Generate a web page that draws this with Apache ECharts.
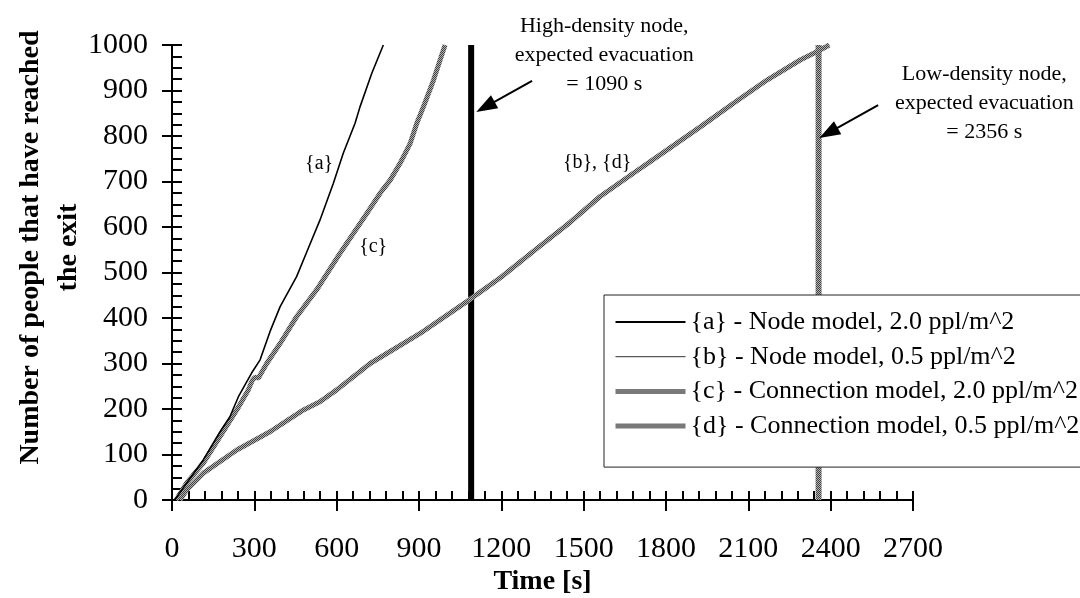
<!DOCTYPE html>
<html>
<head>
<meta charset="utf-8">
<script src="https://cdn.jsdelivr.net/npm/echarts@6/dist/echarts.min.js"></script>
<style>
  html, body { margin: 0; padding: 0; background: #fff; }
  #chart { width: 1080px; height: 598px; }
</style>
</head>
<body>
<div id="chart"></div>
<script>
// Cumulative arrivals at the exit over time (time in s, people)
const timeA   = [10, 53, 114, 175, 211, 242, 290, 321, 357, 394, 454, 491, 539, 588, 624, 667, 685, 728, 770];
const peopleA = [0, 37, 88, 150, 183, 227, 279, 308, 370, 425, 491, 545, 615, 696, 762, 828, 864, 938, 1000];

const timeB   = [30, 53, 114, 236, 357, 479, 539, 600, 722, 904, 1074, 1200, 1330, 1450, 1560, 1681, 1803, 1925, 2046, 2168, 2289, 2362, 2395];
const peopleB = [0, 22, 59, 110, 150, 198, 216, 242, 300, 366, 436, 490, 553, 610, 667, 718, 769, 820, 872, 923, 967, 989, 1000];

const timeC   = [15, 53, 114, 175, 236, 278, 292, 302, 315, 345, 394, 454, 527, 612, 661, 710, 758, 795, 831, 868, 892, 916, 953, 995];
const peopleC = [0, 37, 81, 139, 198, 242, 262, 270, 268, 300, 344, 403, 462, 542, 586, 630, 674, 703, 740, 784, 828, 864, 923, 1000];

const timeD   = [30, 53, 114, 236, 357, 479, 539, 600, 722, 904, 1074, 1200, 1330, 1450, 1560, 1681, 1803, 1925, 2046, 2168, 2289, 2362, 2395];
const peopleD = [0, 22, 59, 110, 150, 198, 216, 242, 300, 366, 436, 490, 553, 610, 667, 718, 769, 820, 872, 923, 967, 989, 1000];

const seriesNames = [
  '{a} - Node model, 2.0 ppl/m^2',
  '{b} - Node model, 0.5 ppl/m^2',
  '{c} - Connection model, 2.0 ppl/m^2',
  '{d} - Connection model, 0.5 ppl/m^2'
];

// Expected evacuation times
const evacHigh = 1090;
const evacLow = 2356;

// Axis ranges and steps
const xMax = 2700, xStep = 300, xMinorSplit = 5;
const yMax = 1000, yStep = 100, yMinorSplit = 4;

// Text notes placed in data coordinates: [text, time, people, fontSize]
const notes = [
  ['High-density node,\nexpected evacuation\n= 1090 s', 1575, 978, 22],
  ['Low-density node,\nexpected evacuation\n= 2356 s', 2960, 872, 22],
  ['{a}', 536, 738, 20],
  ['{c}', 733, 556, 20],
  ['{b}, {d}', 1549, 741, 20]
];

// Pointer arrows: [fromTime, fromPeople, headTime, headPeople]
const arrows = [
  [1312, 921, 1142, 864],
  [2573, 868, 2392, 807]
];

const serif = '"Liberation Serif", "Times New Roman", serif';
const zip = (ts, vs) => ts.map((t, i) => [t, vs[i]]);

// Stippled grey used for the thick connection-model lines
function stipple() {
  const c = document.createElement('canvas');
  c.width = 4; c.height = 4;
  const g = c.getContext('2d');
  g.fillStyle = '#b2b2b2';
  g.fillRect(0, 0, 4, 4);
  g.fillStyle = '#404040';
  for (let y = 0; y < 4; y++) for (let x = 0; x < 4; x++) {
    if ((x + y) % 2 === 0) g.fillRect(x, y, 1, 1);
  }
  return { image: c, repeat: 'repeat' };
}
const greyFill = stipple();

const chart = echarts.init(document.getElementById('chart'), null, { renderer: 'canvas' });

const black = '#000';
const tickStyle = { color: black, width: 2 };
const plain = v => String(v);
const legendWidths = [2, 1, 5, 5];

const lineBase = {
  type: 'line', symbol: 'none', showSymbol: false, silent: true,
  xAxisIndex: 0, yAxisIndex: 0, animation: false
};

chart.setOption({
  animation: false,
  grid: { left: 172, right: 167, top: 45, bottom: 98, containLabel: false, outerBoundsMode: 'none' },
  legend: {
    data: seriesNames.map((n, i) => ({ name: n, lineStyle: { width: legendWidths[i] } })),
    orient: 'vertical', align: 'left',
    left: 604, top: 295,
    itemWidth: 70, itemHeight: 14, itemGap: 6.7,
    padding: [13, 12, 27, 9],
    backgroundColor: '#fff', borderColor: '#222', borderWidth: 1,
    selectedMode: false,
    itemStyle: { opacity: 0 },
    textStyle: { fontFamily: serif, fontSize: 26, lineHeight: 28, color: black }
  },
  xAxis: [
    {
      type: 'value', min: 0, max: xMax, interval: xStep, position: 'bottom',
      axisLine: { show: true, onZero: false, lineStyle: tickStyle },
      axisTick: { show: true, inside: false, length: 11, lineStyle: tickStyle },
      axisLabel: { margin: 34, fontFamily: serif, fontSize: 30, color: black, formatter: plain },
      splitLine: { show: false },
      name: 'Time [s]', nameLocation: 'middle', nameGap: 68, nameMoveOverlap: false,
      nameTextStyle: { fontFamily: serif, fontSize: 28, fontWeight: 'bold', color: black }
    },
    {
      type: 'value', min: 0, max: xMax, interval: xStep, position: 'bottom',
      axisLine: { show: false, onZero: false },
      axisTick: { show: true, inside: true, length: 9, lineStyle: tickStyle },
      minorTick: { show: true, splitNumber: xMinorSplit, length: 9, lineStyle: tickStyle },
      axisLabel: { show: false },
      splitLine: { show: false }
    }
  ],
  yAxis: [
    {
      type: 'value', min: 0, max: yMax, interval: yStep, position: 'left',
      axisLine: { show: true, onZero: false, lineStyle: tickStyle },
      axisTick: { show: true, inside: false, length: 10, lineStyle: tickStyle },
      axisLabel: { margin: 24, fontFamily: serif, fontSize: 30, color: black, formatter: plain },
      splitLine: { show: false },
      name: 'Number of people that have reached\nthe exit',
      nameLocation: 'middle', nameRotate: 90, nameGap: 84, nameMoveOverlap: false,
      nameTextStyle: {
        fontFamily: serif, fontSize: 28, fontWeight: 'bold', color: black,
        lineHeight: 38, align: 'center', padding: [0, 0, 0, 50]
      }
    },
    {
      type: 'value', min: 0, max: yMax, interval: yStep, position: 'left',
      axisLine: { show: false, onZero: false },
      axisTick: { show: true, inside: true, length: 10, lineStyle: tickStyle },
      minorTick: { show: true, splitNumber: yMinorSplit, length: 10, lineStyle: tickStyle },
      axisLabel: { show: false },
      splitLine: { show: false }
    }
  ],
  series: [
    // expected evacuation markers
    Object.assign({}, lineBase, {
      name: 'high-density expected',
      data: [[evacHigh, 0], [evacHigh, yMax]],
      lineStyle: { color: black, width: 6 }, z: 3
    }),
    Object.assign({}, lineBase, {
      name: 'low-density expected',
      data: [[evacLow, 0], [evacLow, yMax]],
      lineStyle: { color: greyFill, width: 6 }, z: 3
    }),
    Object.assign({}, lineBase, {
      name: seriesNames[1], data: zip(timeB, peopleB),
      lineStyle: { color: '#333', width: 1 }, itemStyle: { color: '#333' }
    }),
    Object.assign({}, lineBase, {
      name: seriesNames[3], data: zip(timeD, peopleD),
      lineStyle: { color: greyFill, width: 5 }, itemStyle: { color: '#8a8a8a' }
    }),
    Object.assign({}, lineBase, {
      name: seriesNames[2], data: zip(timeC, peopleC),
      lineStyle: { color: greyFill, width: 5 }, itemStyle: { color: '#8a8a8a' }
    }),
    Object.assign({}, lineBase, {
      name: seriesNames[0], data: zip(timeA, peopleA),
      lineStyle: { color: black, width: 1.6 }, itemStyle: { color: black }
    }),
    {
      type: 'lines', coordinateSystem: 'cartesian2d', silent: true, z: 6,
      symbol: ['none', 'triangle'], symbolSize: [1, [15, 21]],
      lineStyle: { color: black, width: 2, opacity: 1, curveness: 0 },
      data: arrows.map(a => ({ coords: [[a[0], a[1]], [a[2], a[3]]] }))
    },
    {
      type: 'scatter', name: 'notes', silent: true, clip: false, z: 7,
      symbolSize: 0,
      itemStyle: { opacity: 1 },
      data: notes.map(n => ({
        name: n[0], value: [n[1], n[2]],
        label: { fontSize: n[3], lineHeight: n[3] === 22 ? 29 : 24 }
      })),
      label: {
        show: true, position: 'inside', color: black, fontFamily: serif,
        align: 'center', verticalAlign: 'middle',
        formatter: p => p.name
      }
    }
  ]
});
</script>
</body>
</html>
